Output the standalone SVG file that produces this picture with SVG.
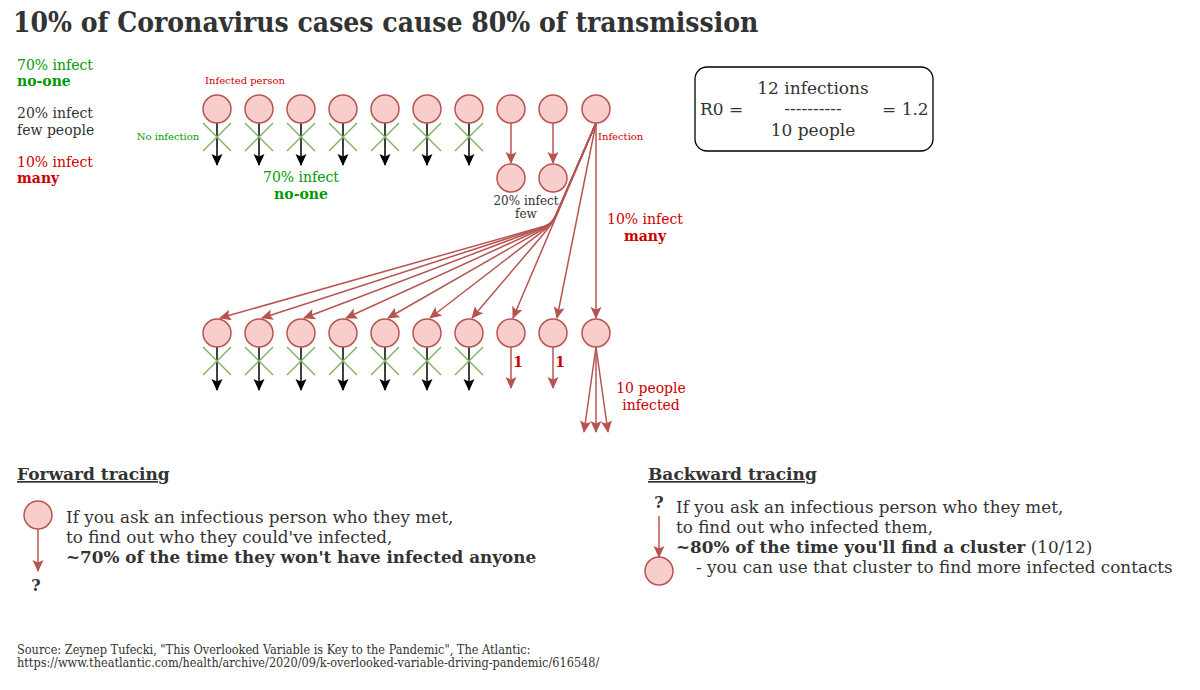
<svg xmlns="http://www.w3.org/2000/svg" width="1200" height="690" viewBox="0 0 1200 690">
<style>
text{font-family:"DejaVu Serif","Liberation Serif",serif}
.cond{font-family:"DejaVu Serif Condensed","DejaVu Serif",serif;font-stretch:condensed}
.p{fill:#f8cecc;stroke:#b85450;stroke-width:1.5}
.x{stroke:#82b366;stroke-width:1.5}
.blk{stroke:#000;stroke-width:1.5;fill:none;marker-end:url(#ab)}
.red{stroke:#b85450;stroke-width:1.5;fill:none;marker-end:url(#ar)}
.g{fill:#009900}
.r{fill:#cc0000}
.d{fill:#333333}
.b{font-weight:bold}
.body{font-size:16.8px}
</style>
<defs>
<marker id="ab" markerWidth="14" markerHeight="14" refX="11" refY="5.5" orient="auto" markerUnits="userSpaceOnUse"><path d="M0,0 L12,5.5 L0,11 L2.5,5.5 z" fill="#000"/></marker>
<marker id="ar" markerWidth="14" markerHeight="14" refX="11" refY="5.5" orient="auto" markerUnits="userSpaceOnUse"><path d="M0,0 L12,5.5 L0,11 L2.5,5.5 z" fill="#b85450"/></marker>
<g id="cross"><line class="x" x1="-14" y1="0" x2="14" y2="28"/><line class="x" x1="14" y1="0" x2="-14" y2="28"/></g>
</defs>
<rect width="1200" height="690" fill="#fff"/>
<text class="cond b d" x="13" y="32" font-size="28">10% of Coronavirus cases cause 80% of transmission</text>

<g id="legend" font-size="14">
<text class="g" x="17" y="70">70% infect</text>
<text class="g b" x="17" y="86">no-one</text>
<text class="d" x="17" y="118">20% infect</text>
<text class="d" x="17" y="135">few people</text>
<text class="r" x="17" y="167">10% infect</text>
<text class="r b" x="17" y="183">many</text>
</g>

<g id="connectors">
<line class="blk" x1="217" y1="123" x2="217" y2="165"/>
<line class="blk" x1="259" y1="123" x2="259" y2="165"/>
<line class="blk" x1="301" y1="123" x2="301" y2="165"/>
<line class="blk" x1="343" y1="123" x2="343" y2="165"/>
<line class="blk" x1="385" y1="123" x2="385" y2="165"/>
<line class="blk" x1="427" y1="123" x2="427" y2="165"/>
<line class="blk" x1="469" y1="123" x2="469" y2="165"/>
<line class="red" x1="511" y1="123" x2="511" y2="163"/>
<line class="red" x1="553" y1="123" x2="553" y2="163"/>
<path class="red" d="M596,123 L556,215 Q552,224 544.3,226.2 L220,318"/>
<path class="red" d="M596,123 L556,215 Q552,224 544.4,226.5 L262,318"/>
<path class="red" d="M596,123 L556,215 Q552,224 544.5,226.8 L304,318"/>
<path class="red" d="M596,123 L556,215 Q552,224 544.7,227.3 L346,318"/>
<path class="red" d="M596,123 L556,215 Q552,224 545.1,228 L388,318"/>
<path class="red" d="M596,123 L556,215 Q552,224 545.7,228.9 L430,318"/>
<path class="red" d="M596,123 L556,215 Q552,224 546.8,230.1 L472,318"/>
<line class="red" x1="596" y1="123" x2="513" y2="318"/>
<line class="red" x1="596" y1="123" x2="557" y2="318"/>
<line class="red" x1="596" y1="123" x2="596" y2="318"/>
<line class="blk" x1="217" y1="347" x2="217" y2="390"/>
<line class="blk" x1="259" y1="347" x2="259" y2="390"/>
<line class="blk" x1="301" y1="347" x2="301" y2="390"/>
<line class="blk" x1="343" y1="347" x2="343" y2="390"/>
<line class="blk" x1="385" y1="347" x2="385" y2="390"/>
<line class="blk" x1="427" y1="347" x2="427" y2="390"/>
<line class="blk" x1="469" y1="347" x2="469" y2="390"/>
<line class="red" x1="511" y1="347" x2="511" y2="388"/>
<line class="red" x1="553" y1="347" x2="553" y2="388"/>
<line class="red" x1="596" y1="347" x2="584" y2="432"/>
<line class="red" x1="596" y1="347" x2="596" y2="432"/>
<line class="red" x1="596" y1="347" x2="608" y2="432"/>
<line class="red" x1="38" y1="529" x2="38" y2="571"/>
<line class="red" x1="659" y1="516" x2="659" y2="557"/>
</g>

<g id="crosses">
<use href="#cross" x="217" y="123"/><use href="#cross" x="259" y="123"/><use href="#cross" x="301" y="123"/><use href="#cross" x="343" y="123"/><use href="#cross" x="385" y="123"/><use href="#cross" x="427" y="123"/><use href="#cross" x="469" y="123"/>
<use href="#cross" x="217" y="347"/><use href="#cross" x="259" y="347"/><use href="#cross" x="301" y="347"/><use href="#cross" x="343" y="347"/><use href="#cross" x="385" y="347"/><use href="#cross" x="427" y="347"/><use href="#cross" x="469" y="347"/>
</g>

<g id="top-row">
<circle class="p" cx="217" cy="109" r="14"/><circle class="p" cx="259" cy="109" r="14"/><circle class="p" cx="301" cy="109" r="14"/><circle class="p" cx="343" cy="109" r="14"/><circle class="p" cx="385" cy="109" r="14"/><circle class="p" cx="427" cy="109" r="14"/><circle class="p" cx="469" cy="109" r="14"/><circle class="p" cx="511" cy="109" r="14"/><circle class="p" cx="553" cy="109" r="14"/><circle class="p" cx="596" cy="109" r="14"/>
</g>
<g id="few-row">
<circle class="p" cx="511" cy="178" r="14"/><circle class="p" cx="553" cy="178" r="14"/>
</g>
<g id="bottom-row">
<circle class="p" cx="217" cy="333" r="14"/><circle class="p" cx="259" cy="333" r="14"/><circle class="p" cx="301" cy="333" r="14"/><circle class="p" cx="343" cy="333" r="14"/><circle class="p" cx="385" cy="333" r="14"/><circle class="p" cx="427" cy="333" r="14"/><circle class="p" cx="469" cy="333" r="14"/><circle class="p" cx="511" cy="333" r="14"/><circle class="p" cx="553" cy="333" r="14"/><circle class="p" cx="596" cy="333" r="14"/>
</g>

<g id="labels">
<text class="r" x="245" y="84" font-size="10" text-anchor="middle">Infected person</text>
<text class="g" x="168" y="140" font-size="10" text-anchor="middle">No infection</text>
<text class="r" x="598" y="140" font-size="10">Infection</text>
<text class="g" x="301" y="182" font-size="14" text-anchor="middle">70% infect</text>
<text class="g b" x="301" y="199" font-size="14" text-anchor="middle">no-one</text>
<text class="d" x="526" y="205" font-size="12" text-anchor="middle">20% infect</text>
<text class="d" x="526" y="218" font-size="12" text-anchor="middle">few</text>
<text class="r" x="645" y="224" font-size="14" text-anchor="middle">10% infect</text>
<text class="r b" x="645" y="241" font-size="14" text-anchor="middle">many</text>
<text class="r b" x="518" y="367" font-size="14" text-anchor="middle">1</text>
<text class="r b" x="560" y="367" font-size="14" text-anchor="middle">1</text>
<text class="r" x="651" y="393" font-size="14" text-anchor="middle">10 people</text>
<text class="r" x="651" y="410" font-size="14" text-anchor="middle">infected</text>
</g>

<g id="r0">
<rect x="695" y="67" width="238" height="84" rx="12" fill="#fff" stroke="#000" stroke-width="1.3"/>
<text class="d" x="700" y="115" font-size="17">R0 =</text>
<text class="d" x="813" y="94" font-size="17" text-anchor="middle">12 infections</text>
<text class="d" x="813" y="114" font-size="17" text-anchor="middle">----------</text>
<text class="d" x="813" y="136" font-size="17" text-anchor="middle">10 people</text>
<text class="d" x="882" y="115" font-size="17">= 1.2</text>
</g>

<g id="forward">
<text class="d b" x="17" y="480" font-size="17" text-decoration="underline">Forward tracing</text>
<circle class="p" cx="38" cy="515" r="14"/>
<text class="d b" x="36" y="591" font-size="16" text-anchor="middle">?</text>
<text class="d body" x="66" y="523">If you ask an infectious person who they met,</text>
<text class="d body" x="66" y="543">to find out who they could've infected,</text>
<text class="d b body" x="66" y="563">~70% of the time they won't have infected anyone</text>
</g>

<g id="backward">
<text class="d b" x="648" y="480" font-size="17" text-decoration="underline">Backward tracing</text>
<text class="d b" x="659" y="508" font-size="16" text-anchor="middle">?</text>
<circle class="p" cx="659" cy="571" r="14"/>
<text class="d body" x="676" y="513">If you ask an infectious person who they met,</text>
<text class="d body" x="676" y="533">to find out who infected them,</text>
<text class="d body" x="676" y="553"><tspan class="b">~80% of the time you'll find a cluster</tspan> (10/12)</text>
<text class="d body" x="696" y="573">- you can use that cluster to find more infected contacts</text>
</g>

<g id="source">
<text class="cond d" x="17" y="654" font-size="12.6">Source: Zeynep Tufecki, "This Overlooked Variable is Key to the Pandemic", The Atlantic:</text>
<text class="cond d" x="17" y="667" font-size="12.6">https://www.theatlantic.com/health/archive/2020/09/k-overlooked-variable-driving-pandemic/616548/</text>
</g>
</svg>
